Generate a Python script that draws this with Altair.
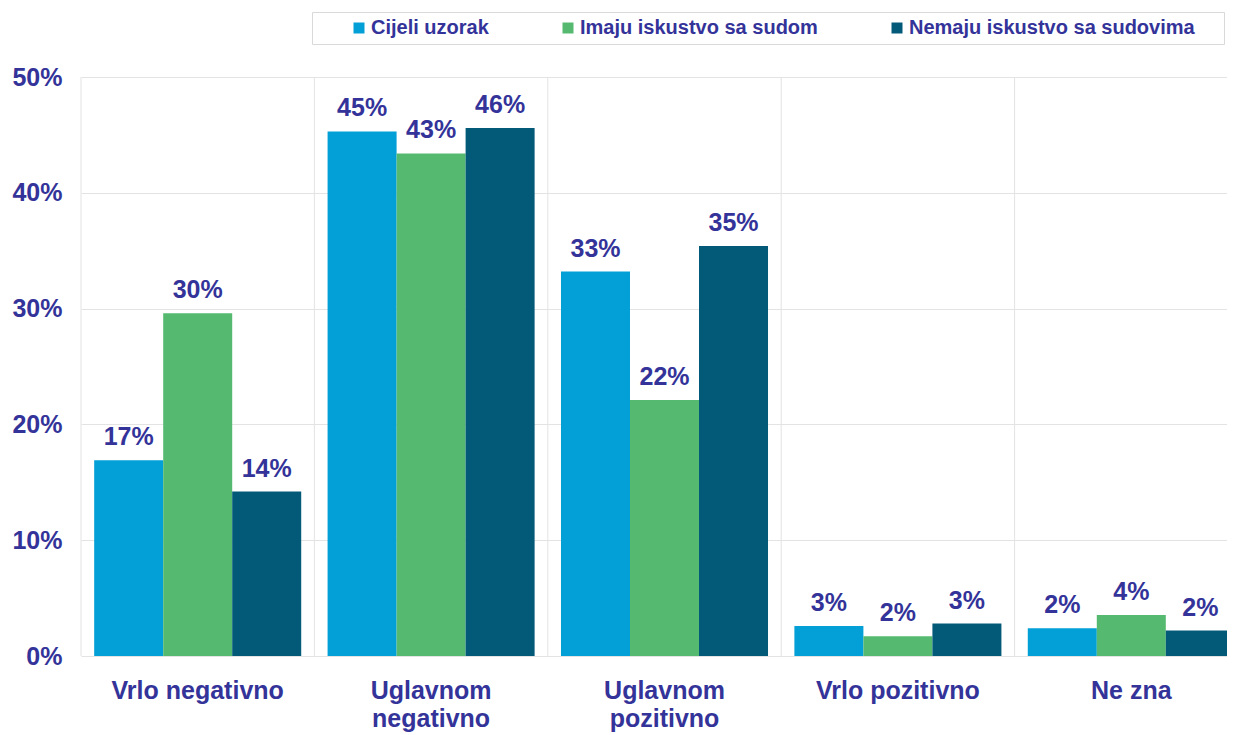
import altair as alt
import pandas as pd

categories = ["Vrlo negativno", "Uglavnom negativno", "Uglavnom pozitivno", "Vrlo pozitivno", "Ne zna"]
series = ["Cijeli uzorak", "Imaju iskustvo sa sudom", "Nemaju iskustvo sa sudovima"]
cijeli = [0.169, 0.453, 0.332, 0.026, 0.024]
imaju = [0.296, 0.434, 0.221, 0.017, 0.0355]
nemaju = [0.142, 0.456, 0.354, 0.028, 0.022]
colors = ["#039FD7", "#55BA70", "#025A78"]
y_ticks = [0, 0.1, 0.2, 0.3, 0.4, 0.5]
boundaries = [0, 1, 2, 3, 4]

rows = []
for s, vals in zip(series, [cijeli, imaju, nemaju]):
    for c, v in zip(categories, vals):
        rows.append({"category": c, "series": s, "value": v})
df = pd.DataFrame(rows)

TEXT = "#333399"
FONT = "Liberation Sans"
GRID = "#e3e3e3"

x_scale = alt.Scale(paddingInner=0.113, paddingOuter=0.0565)
x_axis = alt.Axis(
    title=None, labelAngle=0, labelFont=FONT, labelFontSize=25, labelFontWeight="bold",
    labelColor=TEXT, labelPadding=22, labelLineHeight=28, ticks=False, domain=False,
    labelLimit=0, labelOverlap=False,
    labelExpr="indexof(datum.label, 'Uglavnom') == 0 ? split(datum.label, ' ') : datum.label",
)
y_scale = alt.Scale(domain=[0, 0.5])
y_axis = alt.Axis(
    values=y_ticks, format=".0%", title=None, labelFont=FONT, labelFontSize=25,
    labelFontWeight="bold", labelColor=TEXT, labelPadding=19, ticks=False,
    domain=False, gridColor=GRID, gridWidth=1,
)
xoff = alt.XOffset("series:N", sort=series, scale=alt.Scale(paddingInner=0, paddingOuter=0))

legend = alt.Legend(
    orient="none", legendX=231, legendY=-65, direction="horizontal", columns=3,
    title="\u2003", titleOrient="right", titlePadding=23, titleFontSize=20,
    labelFont=FONT, labelFontSize=20, labelFontWeight="bold", labelColor=TEXT,
    symbolType="square", symbolSize=121, symbolStrokeWidth=0, symbolOffset=31,
    columnPadding=38, padding=6, strokeColor="#d9d9d9", fillColor="white",
    labelOffset=2, labelLimit=0,
)

rules = alt.Chart(pd.DataFrame({"b": boundaries})).mark_rule(color=GRID, strokeWidth=1).encode(
    x=alt.X("b:Q", scale=alt.Scale(domain=[0, 5]), axis=None)
)

bars = alt.Chart(df).mark_bar().encode(
    x=alt.X("category:N", sort=categories, scale=x_scale, axis=x_axis),
    xOffset=xoff,
    y=alt.Y("value:Q", scale=y_scale, axis=y_axis),
    color=alt.Color("series:N", sort=series, scale=alt.Scale(domain=series, range=colors), legend=legend),
)

labels = alt.Chart(df).mark_text(
    dy=-15, baseline="alphabetic", font=FONT, fontSize=25, fontWeight="bold", color=TEXT
).encode(
    x=alt.X("category:N", sort=categories, scale=x_scale, axis=None),
    xOffset=xoff,
    y=alt.Y("value:Q", scale=y_scale),
    text=alt.Text("value:Q", format=".0%"),
)

chart = alt.layer(rules, bars, labels).resolve_scale(x="independent").properties(
    width=1167, height=579,
    padding={"left": 73, "top": 69, "right": -21, "bottom": 79},
    autosize=alt.AutoSizeParams(type="none"),
).configure_view(stroke=None)

chart.save("out.html", embed_options={"renderer": "svg", "actions": False})
